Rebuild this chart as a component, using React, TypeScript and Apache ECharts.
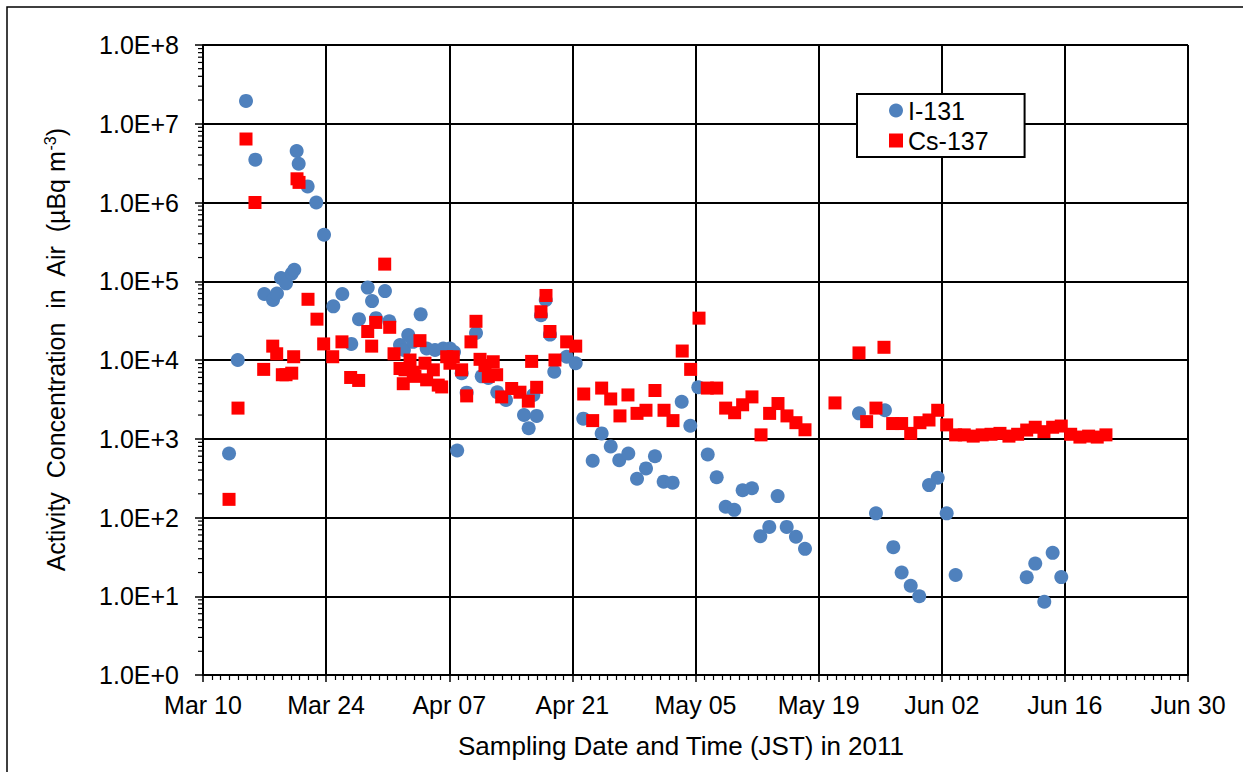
import React, { useEffect, useRef } from "react";
import * as echarts from "echarts";

// Sampling time in days after 2011-03-10 00:00 JST
const I131_DAY = [
  2.96, 3.95, 4.89, 5.95, 6.97, 7.96, 8.41, 8.87, 9.44, 10.09, 10.38, 10.65, 10.88, 11.9, 12.88, 13.76,
  14.82, 15.84, 16.86, 17.74, 18.73, 19.22, 19.67, 20.69, 21.18, 22.4, 22.85, 23.34, 23.88, 24.75, 25.43,
  26.38, 27.32, 28.08, 28.54, 28.9, 29.41, 29.98, 31.04, 31.69, 32.44, 33.46, 34.45, 36.5, 37.03, 37.56,
  37.94, 38.43, 38.97, 39.45, 39.94, 41.35, 42.38, 43.24, 44.31, 45.33, 46.36, 47.33, 48.36, 49.35, 50.37,
  51.39, 52.38, 53.4, 54.43, 55.41, 56.32, 57.39, 58.41, 59.43, 60.41, 61.36, 62.42, 63.37, 64.39, 65.34,
  66.37, 67.42, 68.45, 74.59, 76.52, 77.54, 78.49, 79.44, 80.47, 81.44, 82.55, 83.54, 84.56, 85.58, 93.66,
  94.63, 95.66, 96.61, 97.59,
];
const I131_VAL = [
  650, 1.0e4, 1.95e7, 3.5e6, 6.9e4, 5.8e4, 7.0e4, 1.1e5, 9.4e4, 1.25e5, 1.4e5, 4.5e6, 3.1e6, 1.6e6, 1.0e6, 3.9e5,
  4.8e4, 6.9e4, 1.6e4, 3.3e4, 8.3e4, 5.6e4, 3.4e4, 7.5e4, 3.1e4, 1.55e4, 1.34e4, 2.07e4, 1.7e4, 3.8e4, 1.4e4,
  1.34e4, 1.4e4, 1.4e4, 1.26e4, 710, 6.8e3, 3.85e3, 2.2e4, 6.2e3, 5.9e3, 3.9e3, 3.1e3, 2.0e3, 1.36e3, 3.6e3,
  1.95e3, 3.7e4, 5.8e4, 2.1e4, 7.1e3, 1.1e4, 9.1e3, 1.8e3, 525, 1.17e3, 800, 535, 650, 310, 420,
  600, 285, 277, 2.95e3, 1.46e3, 4.5e3, 630, 325, 137, 125, 222, 235, 58, 76, 187,
  76, 57, 40, 2.1e3, 113, 2.3e3, 42, 20, 13.6, 10, 258, 320, 113, 18.6, 17.4,
  26, 8.5, 35.6, 17.5,
];

const CS137_DAY = [
  2.96, 3.98, 4.89, 5.91, 6.9, 7.93, 8.38, 9.02, 9.44, 10.09, 10.31, 10.69, 10.92, 11.94, 12.96, 13.72,
  14.75, 15.8, 16.79, 17.7, 18.73, 19.18, 19.64, 20.66, 21.23, 21.72, 22.4, 22.77, 22.97, 23.54, 23.91,
  24.1, 24.67, 25.24, 25.43, 26.19, 26.75, 27.14, 27.71, 28.08, 28.46, 29.41, 29.98, 30.47, 31.04, 31.5,
  32.06, 32.44, 33.0, 33.39, 33.96, 35.1, 36.04, 36.99, 37.37, 37.94, 38.43, 39.0, 39.45, 40.02, 41.35,
  42.38, 43.29, 44.31, 45.33, 46.36, 47.41, 48.32, 49.35, 50.37, 51.39, 52.42, 53.44, 54.49, 55.45, 56.4,
  57.34, 58.41, 59.43, 60.45, 61.36, 62.42, 63.45, 64.43, 65.38, 66.4, 67.42, 68.45, 71.86, 74.59, 75.46,
  76.52, 77.43, 78.42, 79.44, 80.47, 81.52, 82.55, 83.54, 84.56, 85.58, 86.56, 87.58, 88.6, 89.6, 90.62,
  91.64, 92.63, 93.66, 94.63, 95.62, 96.61, 97.59, 98.66, 99.71, 100.7, 101.68, 102.67,
];
const CS137_VAL = [
  170, 2.45e3, 6.4e6, 1.0e6, 7.6e3, 1.5e4, 1.2e4, 6.5e3, 6.5e3, 6.8e3, 1.1e4, 2.0e6, 1.8e6, 5.9e4, 3.3e4, 1.6e4,
  1.1e4, 1.7e4, 6.0e3, 5.5e3, 2.3e4, 1.5e4, 3.0e4, 1.65e5, 2.6e4, 1.2e4, 7.8e3, 5.0e3, 7.5e3, 1.0e4, 7.0e3,
  6.2e3, 1.76e4, 9.1e3, 5.6e3, 7.5e3, 4.8e3, 4.55e3, 1.1e4, 9.1e3, 1.1e4, 7.5e3, 3.5e3, 1.7e4, 3.1e4, 1.02e4,
  8.5e3, 6.2e3, 9.5e3, 6.5e3, 3.4e3, 4.35e3, 3.9e3, 3.0e3, 9.6e3, 4.5e3, 4.1e4, 6.6e4, 2.3e4, 1.0e4, 1.7e4,
  1.5e4, 3.7e3, 1.7e3, 4.4e3, 3.2e3, 1.95e3, 3.6e3, 2.1e3, 2.3e3, 4.1e3, 2.3e3, 1.7e3, 1.3e4, 7.6e3, 3.4e4,
  4.4e3, 4.4e3, 2.45e3, 2.14e3, 2.7e3, 3.4e3, 1.12e3, 2.1e3, 2.8e3, 1.95e3, 1.6e3, 1.3e3, 2.85e3, 1.23e4, 1.65e3,
  2.45e3, 1.45e4, 1.56e3, 1.56e3, 1.17e3, 1.6e3, 1.73e3, 2.3e3, 1.5e3, 1.12e3, 1.12e3, 1.08e3, 1.12e3, 1.14e3, 1.17e3,
  1.08e3, 1.14e3, 1.29e3, 1.4e3, 1.23e3, 1.4e3, 1.45e3, 1.14e3, 1.05e3, 1.08e3, 1.05e3, 1.12e3,
];

const X_TICK_LABELS = ["Mar 10", "Mar 24", "Apr 07", "Apr 21", "May 05", "May 19", "Jun 02", "Jun 16", "Jun 30"];
const Y_TICK_LABELS = ["1.0E+0", "1.0E+1", "1.0E+2", "1.0E+3", "1.0E+4", "1.0E+5", "1.0E+6", "1.0E+7", "1.0E+8"];
const SERIES_NAMES = ["I-131", "Cs-137"];

const FONT = "'Liberation Sans', Arial, sans-serif";

export default function App() {
  const ref = useRef<HTMLDivElement>(null);
  useEffect(() => {
    document.body.style.margin = "0";
    if (!ref.current) return;
    const chart = echarts.init(ref.current, null, { renderer: "svg" });

    const minorVals: number[][] = [];
    for (let e = 0; e < 8; e++) {
      for (let k = 2; k <= 9; k++) minorVals.push([0, k * Math.pow(10, e)]);
    }

    chart.setOption({
      animation: false,
      backgroundColor: "#fff",
      textStyle: { fontFamily: FONT },
      grid: { left: 203, right: 55, top: 45, bottom: 97 },
      legend: {
        data: SERIES_NAMES,
        orient: "vertical",
        left: 857,
        top: 94,
        padding: [4, 36, 4, 32],
        itemGap: 5,
        itemWidth: 14,
        itemHeight: 14,
        borderColor: "#000",
        borderWidth: 2,
        backgroundColor: "#fff",
        textStyle: { fontSize: 25, color: "#000", fontFamily: FONT },
      },
      xAxis: {
        type: "value",
        min: 0,
        max: 112,
        interval: 14,
        axisLine: { show: true, lineStyle: { color: "#000", width: 2 } },
        axisTick: { show: true, length: 7, lineStyle: { color: "#000", width: 1.5 } },
        minorTick: { show: true, splitNumber: 14, length: 5, lineStyle: { color: "#000", width: 1.2 } },
        splitLine: { show: true, lineStyle: { color: "#000", width: 2 } },
        axisLabel: {
          fontSize: 25,
          color: "#000",
          fontFamily: FONT,
          margin: 17,
          formatter: (v: number) => X_TICK_LABELS[Math.round(v / 14)] ?? "",
        },
      },
      yAxis: {
        type: "log",
        logBase: 10,
        min: 1,
        max: 1e8,
        splitNumber: 8,
        axisLine: { show: true, lineStyle: { color: "#000", width: 2 } },
        axisTick: { show: true, length: 8, lineStyle: { color: "#000", width: 1.5 } },
        splitLine: { show: true, lineStyle: { color: "#000", width: 2 } },
        axisLabel: {
          fontSize: 25,
          color: "#000",
          fontFamily: FONT,
          margin: 24,
          formatter: (v: number) => Y_TICK_LABELS[Math.round(Math.log10(v))] ?? "",
        },
      },
      graphic: [
        {
          type: "rect",
          silent: true,
          shape: { x: 7, y: 7, width: 1300, height: 900 },
          style: { fill: "none", stroke: "#000", lineWidth: 1.5 },
        },
        {
          type: "text",
          x: 56,
          y: 350,
          rotation: Math.PI / 2,
          style: {
            text: "{a|Activity  Concentration  in  Air  (µBq m}{s|-3}{a|)}",
            align: "center",
            verticalAlign: "middle",
            rich: {
              a: { fontSize: 25, fontFamily: FONT, fill: "#000", lineHeight: 30 },
              s: { fontSize: 16, fontFamily: FONT, fill: "#000", lineHeight: 30, padding: [0, 0, 12, 0] },
            },
          },
        },
        {
          type: "text",
          x: 681,
          y: 746,
          style: {
            text: "Sampling Date and Time (JST) in 2011",
            fontSize: 26,
            fontFamily: FONT,
            fill: "#000",
            align: "center",
            verticalAlign: "middle",
          },
        },
      ],
      series: [
        {
          name: SERIES_NAMES[0],
          type: "scatter",
          symbol: "circle",
          symbolSize: 14,
          itemStyle: { color: "#4F81BD", opacity: 1 },
          data: I131_DAY.map((d, i) => [d, I131_VAL[i]]),
          z: 3,
        },
        {
          name: SERIES_NAMES[1],
          type: "scatter",
          symbol: "rect",
          symbolSize: 13,
          itemStyle: { color: "#FF0000", opacity: 1 },
          data: CS137_DAY.map((d, i) => [d, CS137_VAL[i]]),
          z: 4,
        },
        {
          name: "minorTicks",
          type: "custom",
          silent: true,
          clip: false,
          data: minorVals,
          renderItem: (_p: any, api: any) => {
            const pt = api.coord([0, api.value(1)]);
            return {
              type: "line",
              shape: { x1: pt[0] - 5, y1: pt[1], x2: pt[0], y2: pt[1] },
              style: { stroke: "#000", lineWidth: 1.2 },
            };
          },
        },
      ],
    });
    return () => chart.dispose();
  }, []);
  return <div ref={ref} style={{ width: 1243, height: 772 }} />;
}
